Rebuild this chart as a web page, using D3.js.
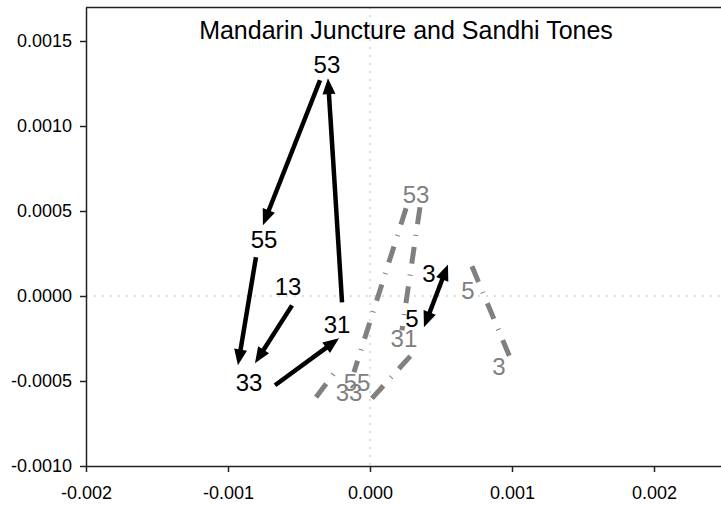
<!DOCTYPE html>
<html>
<head>
<meta charset="utf-8">
<script src="https://cdn.jsdelivr.net/npm/d3@7"></script>
<style>
	body { margin: 0; background: #fff; }
	svg { font-family: "Liberation Sans", Arial, sans-serif; }
</style>
</head>
<body>
<svg id="chart"></svg>
<script>
const width = 721;
const height = 505;
const margin = { top: 7, right: -4, bottom: 39, left: 86 };

const title = "Mandarin Juncture and Sandhi Tones";

const xTicks = [-0.002, -0.001, 0, 0.001, 0.002];
const yTicks = [-0.001, -0.0005, 0, 0.0005, 0.001, 0.0015];

// juncture tones (black)
const juncLabels = ["53", "55", "13", "33", "31", "3", "5"];
const juncX = [-0.000303, -0.000746, -0.000577, -0.000852, -0.000232, 0.000415, 0.000296];
const juncY = [0.001363, 0.000333, 0.000057, -0.000508, -0.000166, 0.000134, -0.000131];

// arrows [x1, y1, x2, y2, doubleHeaded]
const juncArrows = [
	[-0.000352, 0.001269, -0.000754, 0.000416, false],
	[-0.000803, 0.000228, -0.00093, -0.000408, false],
	[-0.000549, -0.000055, -0.00081, -0.000396, false],
	[-0.000669, -0.000525, -0.000218, -0.000249, false],
	[-0.000197, -0.000037, -0.000296, 0.001281, false],
	[0.00038, -0.000184, 0.000549, 0.000186, true]
];

// sandhi tones (grey)
const sandhiLabels = ["53", "55", "33", "31", "5", "3"];
const sandhiX = [0.000324, -0.0000915, -0.000148, 0.000239, 0.00069, 0.000908];
const sandhiY = [0.000598, -0.000508, -0.000566, -0.000249, 0.0000335, -0.000413];

const sandhiSegments = [
	[0.000254, 0.000516, -0.000113, -0.000448],
	[0.000352, 0.000522, 0.000225, -0.000202],
	[0.0000141, -0.000602, 0.000289, -0.000349],
	[-0.00038, -0.000596, -0.000254, -0.000455],
	[0.000718, 0.000175, 0.001, -0.00039]
];

const svg = d3
	.select("#chart")
	.attr("width", width)
	.attr("height", height);

const x = d3
	.scaleLinear()
	.domain([-0.002, 0.0025])
	.range([margin.left, width - margin.right]);

const y = d3
	.scaleLinear()
	.domain([-0.001, 0.0017])
	.range([height - margin.bottom, margin.top]);

// zero lines
svg.append("line")
	.attr("x1", x(-0.002))
	.attr("x2", x(0.0025))
	.attr("y1", y(0))
	.attr("y2", y(0))
	.attr("stroke", "#bdbdbd")
	.attr("stroke-dasharray", "2,6");

svg.append("line")
	.attr("x1", x(0))
	.attr("x2", x(0))
	.attr("y1", y(0.0017))
	.attr("y2", y(-0.001))
	.attr("stroke", "#bdbdbd")
	.attr("stroke-dasharray", "2,6");

// plot frame top
svg.append("line")
	.attr("x1", x(-0.002))
	.attr("x2", x(0.0025))
	.attr("y1", y(0.0017) + 0.5)
	.attr("y2", y(0.0017) + 0.5)
	.attr("stroke", "#222")
	.attr("stroke-width", 1.5);

// axes
const xAxis = svg
	.append("g")
	.attr("transform", `translate(0, ${y(-0.001)})`)
	.call(
		d3.axisBottom(x)
			.tickValues(xTicks)
			.tickSize(6)
			.tickPadding(14)
			.tickSizeOuter(0)
			.tickFormat(d => d.toFixed(3))
	);

const yAxis = svg
	.append("g")
	.attr("transform", `translate(${x(-0.002)}, 0)`)
	.call(
		d3.axisLeft(y)
			.tickValues(yTicks)
			.tickSize(6)
			.tickPadding(8)
			.tickSizeOuter(0)
			.tickFormat(d => d.toFixed(4))
	);

[xAxis, yAxis].forEach(a => {
	a.selectAll("path, line").attr("stroke", "#222").attr("stroke-width", 1.5);
	a.selectAll("text")
		.attr("fill", "#000")
		.style("font-size", "18px")
		.style("font-family", "'Liberation Sans', Arial, sans-serif");
});

// title
svg.append("text")
	.attr("x", 406)
	.attr("y", 39)
	.attr("text-anchor", "middle")
	.style("font-size", "25px")
	.text(title);

// grey dash-dot segments
svg.selectAll(".sandhi-seg")
	.data(sandhiSegments)
	.enter()
	.append("line")
	.attr("class", "sandhi-seg")
	.attr("x1", d => x(d[0]))
	.attr("y1", d => y(d[1]))
	.attr("x2", d => x(d[2]))
	.attr("y2", d => y(d[3]))
	.attr("stroke", "#808080")
	.attr("stroke-width", 5)
	.attr("stroke-dasharray", "17,11,1,11");

svg.selectAll(".sandhi-label")
	.data(sandhiLabels)
	.enter()
	.append("text")
	.attr("class", "sandhi-label")
	.attr("x", (d, i) => x(sandhiX[i]))
	.attr("y", (d, i) => y(sandhiY[i]))
	.attr("text-anchor", "middle")
	.attr("dy", "0.36em")
	.attr("fill", "#808080")
	.style("font-size", "24px")
	.text(d => d);

// black arrows
const headLen = 16;
const headHalf = 6.5;

function arrowHead(tipX, tipY, fromX, fromY) {
	const dx = tipX - fromX;
	const dy = tipY - fromY;
	const len = Math.hypot(dx, dy);
	const ux = dx / len;
	const uy = dy / len;
	const bx = tipX - ux * headLen;
	const by = tipY - uy * headLen;
	return [
		[tipX, tipY],
		[bx - uy * headHalf, by + ux * headHalf],
		[bx + uy * headHalf, by - ux * headHalf]
	];
}

const arrows = svg.append("g").attr("class", "arrows");

juncArrows.forEach(a => {
	const x1 = x(a[0]);
	const y1 = y(a[1]);
	const x2 = x(a[2]);
	const y2 = y(a[3]);
	const len = Math.hypot(x2 - x1, y2 - y1);
	const ux = (x2 - x1) / len;
	const uy = (y2 - y1) / len;
	const ex = x2 - ux * (headLen - 2);
	const ey = y2 - uy * (headLen - 2);
	let sx = x1;
	let sy = y1;
	if (a[4]) {
		sx = x1 + ux * (headLen - 2);
		sy = y1 + uy * (headLen - 2);
	}
	arrows.append("line")
		.attr("x1", sx)
		.attr("y1", sy)
		.attr("x2", ex)
		.attr("y2", ey)
		.attr("stroke", "#000")
		.attr("stroke-width", 4.5);
	arrows.append("polygon")
		.attr("points", arrowHead(x2, y2, x1, y1).join(" "))
		.attr("fill", "#000");
	if (a[4]) {
		arrows.append("polygon")
			.attr("points", arrowHead(x1, y1, x2, y2).join(" "))
			.attr("fill", "#000");
	}
});

svg.selectAll(".junc-label")
	.data(juncLabels)
	.enter()
	.append("text")
	.attr("class", "junc-label")
	.attr("x", (d, i) => x(juncX[i]))
	.attr("y", (d, i) => y(juncY[i]))
	.attr("text-anchor", "middle")
	.attr("dy", "0.36em")
	.attr("fill", "#000")
	.style("font-size", "24px")
	.text(d => d);
</script>
</body>
</html>
